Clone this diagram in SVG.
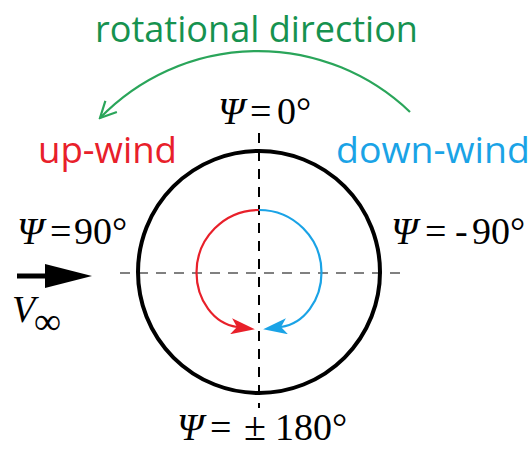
<svg xmlns="http://www.w3.org/2000/svg" width="531" height="450" viewBox="0 0 531 450">
<style>
.sans{font-family:"Open Sans","Noto Sans","DejaVu Sans",sans-serif;font-size:37px}
.m{font-family:"Liberation Serif","Times New Roman","DejaVu Serif",serif;font-size:38px;fill:#000}
.i{font-style:italic}
.dash{fill:none;stroke-width:2;stroke-dasharray:10 8}
</style>
<defs>
<marker id="arR" markerUnits="userSpaceOnUse" markerWidth="24" markerHeight="16" viewBox="0 0 24 16" refX="6" refY="8" orient="auto"><path d="M0,0 L24,8 L0,16 L6,8 z" fill="#e8202a"/></marker>
<marker id="arB" markerUnits="userSpaceOnUse" markerWidth="24" markerHeight="16" viewBox="0 0 24 16" refX="6" refY="8" orient="auto"><path d="M0,0 L24,8 L0,16 L6,8 z" fill="#1aa3e6"/></marker>
<marker id="arG" markerUnits="userSpaceOnUse" markerWidth="20" markerHeight="20" viewBox="0 0 20 20" refX="18" refY="10" orient="auto"><path d="M2,2 L18,10 L2,18" fill="none" stroke="#2aa55a" stroke-width="2.2"/></marker>
</defs>

<g id="connectors">
<line class="dash" x1="259" y1="133" x2="259" y2="408" stroke="#000"/>
<line class="dash" x1="120" y1="273" x2="404" y2="273" stroke="#808080"/>
<path d="M410,112 A220,220 0 0 0 100,118" fill="none" stroke="#2aa55a" stroke-width="2.2" marker-end="url(#arG)"/>
<path d="M259,210 A62.5,62.5 0 0 0 196.5,272.5 C196.5,300 214,324 237,327" fill="none" stroke="#e8202a" stroke-width="2.2" marker-end="url(#arR)"/>
<path d="M259,210 A62.5,62.5 0 0 1 321.5,272.5 C321.5,300 304,324 281,327" fill="none" stroke="#1aa3e6" stroke-width="2.2" marker-end="url(#arB)"/>
<g id="flow-arrow">
<line x1="17" y1="276" x2="50" y2="276" stroke="#000" stroke-width="5"/>
<polygon points="45,264 92,276 45,288" fill="#000"/>
</g>
</g>

<g id="rotor">
<circle cx="259" cy="272" r="121" fill="none" stroke="#000" stroke-width="4"/>
</g>

<g id="label-rotational">
<text class="sans" x="95" y="42" fill="#16924f" textLength="323" lengthAdjust="spacingAndGlyphs">rotational direction</text>
</g>
<g id="label-upwind">
<text class="sans" x="38" y="163" fill="#e8202a" textLength="139" lengthAdjust="spacingAndGlyphs">up-wind</text>
</g>
<g id="label-downwind">
<text class="sans" x="336" y="163" fill="#1aa3e6" textLength="194" lengthAdjust="spacingAndGlyphs">down-wind</text>
</g>

<g id="psi-0">
<text class="m" y="124"><tspan class="i" x="218">Ψ</tspan><tspan x="250">=</tspan><tspan x="277">0°</tspan></text>
</g>
<g id="psi-90">
<text class="m" y="244"><tspan class="i" x="17">Ψ</tspan><tspan x="50">=</tspan><tspan x="74">90°</tspan></text>
</g>
<g id="psi-m90">
<text class="m" y="244"><tspan class="i" x="391">Ψ</tspan><tspan x="425">=</tspan><tspan x="455">-</tspan><tspan x="472">90°</tspan></text>
</g>
<g id="psi-180">
<text class="m" y="440"><tspan class="i" x="177">Ψ</tspan><tspan x="210">=</tspan><tspan x="244" font-size="40">±</tspan><tspan x="275">180°</tspan></text>
</g>
<g id="v-inf">
<text class="m" y="322"><tspan class="i" x="12">V</tspan></text>
<text class="m" x="34" y="334" font-size="29">∞</text>
</g>
</svg>
